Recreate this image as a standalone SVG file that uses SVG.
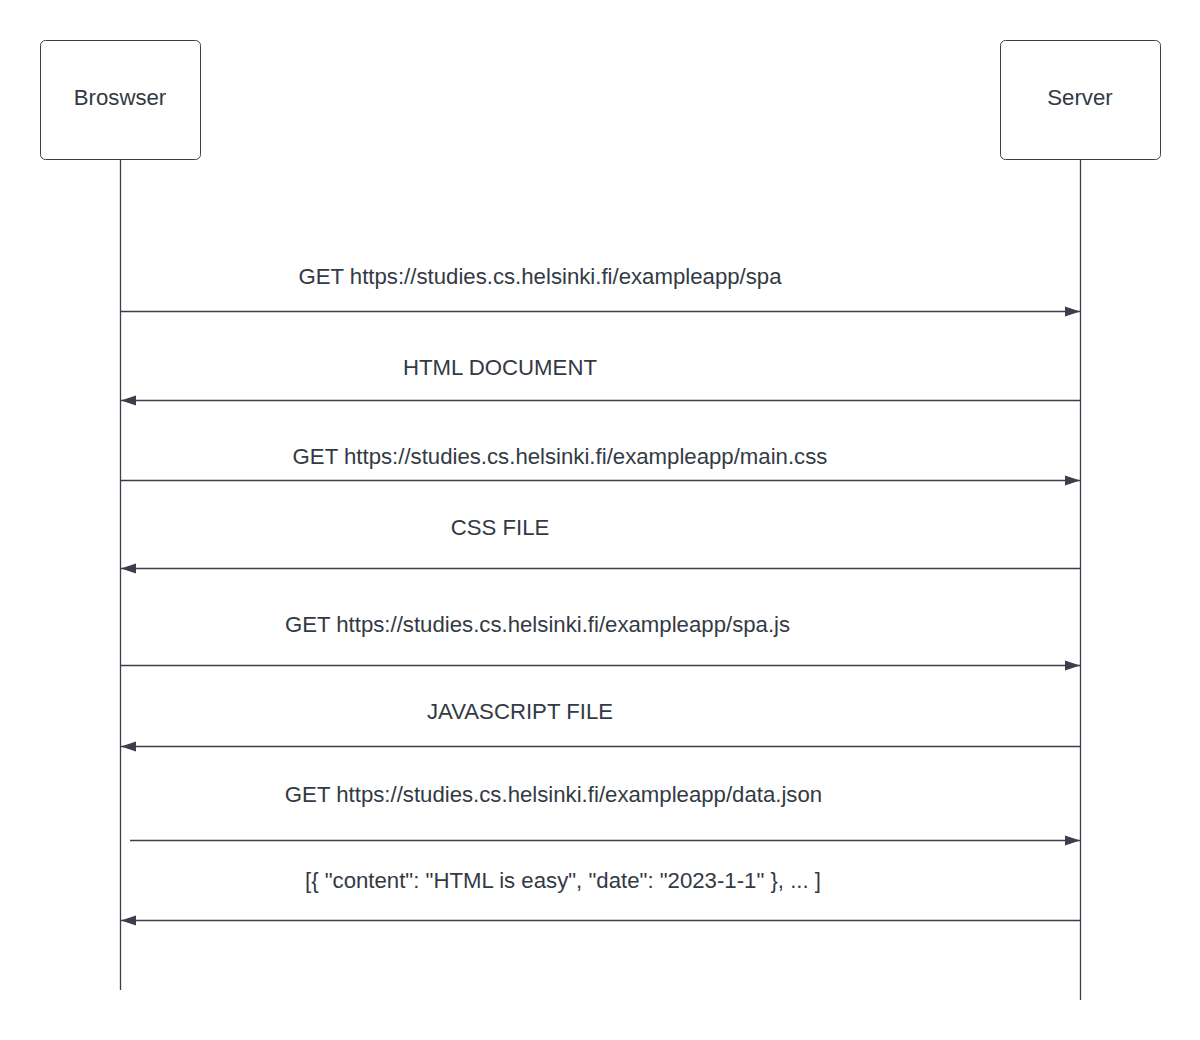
<svg xmlns="http://www.w3.org/2000/svg" width="1200" height="1040" viewBox="0 0 1200 1040">
  <style>
    .box { fill: #ffffff; stroke: #3a3f4b; stroke-width: 1; }
    .life { stroke: #3a3f4b; stroke-width: 1.3; fill: none; }
    .msg { stroke: #3a3f4b; stroke-width: 1.3; fill: none; }
    text { font-family: "Liberation Sans", Arial, sans-serif; font-size: 22.2px; fill: #333a45; text-anchor: middle; }
  </style>
  <defs>
    <marker id="head" markerWidth="16" markerHeight="12" refX="15" refY="6" orient="auto" markerUnits="userSpaceOnUse">
      <path d="M0,1 L15,6 L0,11 Z" fill="#3a3f4b"/>
    </marker>
  </defs>
  <rect width="1200" height="1040" fill="#ffffff"/>

  <!-- participants -->
  <g id="browser">
    <rect class="box" x="40.5" y="40.5" width="160" height="119" rx="5"/>
    <text x="120" y="105">Broswser</text>
  </g>
  <g id="server">
    <rect class="box" x="1000.5" y="40.5" width="160" height="119" rx="5"/>
    <text x="1080" y="105">Server</text>
  </g>

  <g id="lifelines">
    <line class="life" x1="120.5" y1="160" x2="120.5" y2="990"/>
    <line class="life" x1="1080.5" y1="160" x2="1080.5" y2="1000"/>
  </g>

  <!-- request / response messages -->
  <g id="connectors">
    <line class="msg" x1="121" y1="311.5" x2="1080" y2="311.5" marker-end="url(#head)"/>
    <line class="msg" x1="1080" y1="400.5" x2="121" y2="400.5" marker-end="url(#head)"/>
    <line class="msg" x1="121" y1="480.5" x2="1080" y2="480.5" marker-end="url(#head)"/>
    <line class="msg" x1="1080" y1="568.5" x2="121" y2="568.5" marker-end="url(#head)"/>
    <line class="msg" x1="121" y1="665.5" x2="1080" y2="665.5" marker-end="url(#head)"/>
    <line class="msg" x1="1080" y1="746.5" x2="121" y2="746.5" marker-end="url(#head)"/>
    <line class="msg" x1="130" y1="840.5" x2="1080" y2="840.5" marker-end="url(#head)"/>
    <line class="msg" x1="1080" y1="920.5" x2="121" y2="920.5" marker-end="url(#head)"/>
  </g>

  <g id="labels">
    <text x="540" y="284">GET https://studies.cs.helsinki.fi/exampleapp/spa</text>
    <text x="500" y="375">HTML DOCUMENT</text>
    <text x="560" y="464">GET https://studies.cs.helsinki.fi/exampleapp/main.css</text>
    <text x="500" y="535">CSS FILE</text>
    <text x="537.5" y="632">GET https://studies.cs.helsinki.fi/exampleapp/spa.js</text>
    <text x="520" y="719">JAVASCRIPT FILE</text>
    <text x="553.5" y="802">GET https://studies.cs.helsinki.fi/exampleapp/data.json</text>
    <text x="563" y="888">[{ "content": "HTML is easy", "date": "2023-1-1" }, ... ]</text>
  </g>
</svg>
